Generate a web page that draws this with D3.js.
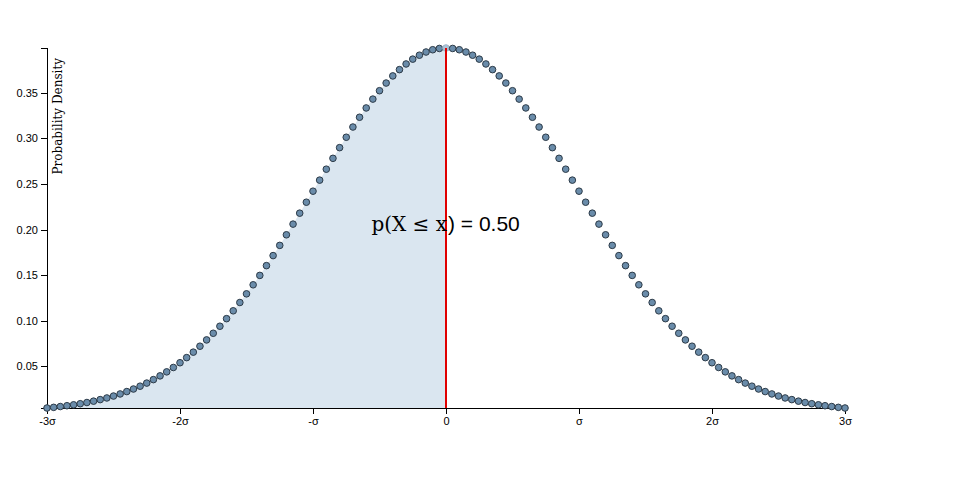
<!DOCTYPE html>
<html>
<head>
<meta charset="utf-8">
<script src="https://cdn.jsdelivr.net/npm/d3@7"></script>
<style>
  body { margin: 0; background: #fff; }
  svg { display: block; }
  .axis text { font-family: "Liberation Sans", Arial, sans-serif; font-size: 11px; fill: #000; }
  .axis path, .axis line { stroke: #000; fill: none; shape-rendering: crispEdges; }
</style>
</head>
<body>
<svg id="chart" width="960" height="500"></svg>
<script>
// z-scores (in units of sigma)
const zScores = [
 -3.00,-2.95,-2.90,-2.85,-2.80,-2.75,-2.70,-2.65,-2.60,-2.55,-2.50,-2.45,-2.40,-2.35,-2.30,-2.25,-2.20,-2.15,-2.10,-2.05,
 -2.00,-1.95,-1.90,-1.85,-1.80,-1.75,-1.70,-1.65,-1.60,-1.55,-1.50,-1.45,-1.40,-1.35,-1.30,-1.25,-1.20,-1.15,-1.10,-1.05,
 -1.00,-0.95,-0.90,-0.85,-0.80,-0.75,-0.70,-0.65,-0.60,-0.55,-0.50,-0.45,-0.40,-0.35,-0.30,-0.25,-0.20,-0.15,-0.10,-0.05,
  0.00, 0.05, 0.10, 0.15, 0.20, 0.25, 0.30, 0.35, 0.40, 0.45, 0.50, 0.55, 0.60, 0.65, 0.70, 0.75, 0.80, 0.85, 0.90, 0.95,
  1.00, 1.05, 1.10, 1.15, 1.20, 1.25, 1.30, 1.35, 1.40, 1.45, 1.50, 1.55, 1.60, 1.65, 1.70, 1.75, 1.80, 1.85, 1.90, 1.95,
  2.00, 2.05, 2.10, 2.15, 2.20, 2.25, 2.30, 2.35, 2.40, 2.45, 2.50, 2.55, 2.60, 2.65, 2.70, 2.75, 2.80, 2.85, 2.90, 2.95,
  3.00
];
// probability density
const density = [
 0.0044,0.0051,0.0060,0.0069,0.0079,0.0091,0.0104,0.0119,0.0136,0.0154,0.0175,0.0198,0.0224,0.0252,0.0283,0.0317,0.0355,0.0396,0.0440,0.0488,
 0.0540,0.0596,0.0656,0.0721,0.0790,0.0863,0.0940,0.1023,0.1109,0.1200,0.1295,0.1394,0.1497,0.1604,0.1714,0.1826,0.1942,0.2059,0.2179,0.2299,
 0.2420,0.2541,0.2661,0.2780,0.2897,0.3011,0.3123,0.3230,0.3332,0.3429,0.3521,0.3605,0.3683,0.3752,0.3814,0.3867,0.3910,0.3945,0.3970,0.3984,
 0.3989,0.3984,0.3970,0.3945,0.3910,0.3867,0.3814,0.3752,0.3683,0.3605,0.3521,0.3429,0.3332,0.3230,0.3123,0.3011,0.2897,0.2780,0.2661,0.2541,
 0.2420,0.2299,0.2179,0.2059,0.1942,0.1826,0.1714,0.1604,0.1497,0.1394,0.1295,0.1200,0.1109,0.1023,0.0940,0.0863,0.0790,0.0721,0.0656,0.0596,
 0.0540,0.0488,0.0440,0.0396,0.0355,0.0317,0.0283,0.0252,0.0224,0.0198,0.0175,0.0154,0.0136,0.0119,0.0104,0.0091,0.0079,0.0069,0.0060,0.0051,
 0.0044
];
const xTickValues = [-3, -2, -1, 0, 1, 2, 3];
const xTickLabels = ["-3σ", "-2σ", "-σ", "0", "σ", "2σ", "3σ"];
const yTickValues = [0.05, 0.10, 0.15, 0.20, 0.25, 0.30, 0.35];
const cutoff = 0;          // x value of the red line
const probTextLeft = "p(X ≤ x";
const probTextRight = ") = 0.50";
const yLabel = "Probability Density";

const data = zScores.map((z, i) => ({ z, p: density[i] }));

const margin = { top: 48, right: 115, bottom: 92, left: 47 };
const width = 960 - margin.left - margin.right;
const height = 500 - margin.top - margin.bottom;

const svg = d3.select("#chart");
const g = svg.append("g").attr("transform", `translate(${margin.left},${margin.top})`);

const x = d3.scaleLinear().domain([-3, 3]).range([0, width]);
const y = d3.scaleLinear().domain(d3.extent(density)).range([height, 0]);

// shaded area up to cutoff
const shaded = data.filter(d => d.z <= cutoff);
g.append("path")
  .datum(shaded)
  .attr("fill", "rgb(218,230,240)")
  .attr("d", d3.area().x(d => x(d.z)).y0(height).y1(d => y(d.p)));

// axes
g.append("g").attr("class", "axis")
  .attr("transform", `translate(0,${height})`)
  .call(d3.axisBottom(x).tickValues(xTickValues).tickFormat((d, i) => xTickLabels[i]));

const yAxis = g.append("g").attr("class", "axis")
  .call(d3.axisLeft(y).tickValues(yTickValues).tickFormat(d3.format(".2f")));

yAxis.append("text")
  .attr("transform", "rotate(-90)")
  .attr("x", -10)
  .attr("y", 6)
  .attr("dy", ".71em")
  .style("text-anchor", "end")
  .style("font-family", "'DejaVu Serif', serif")
  .style("font-size", "12px")
  .style("fill", "#000")
  .text(yLabel);

// dots
g.selectAll("circle.dot")
  .data(data)
  .join("circle")
  .attr("class", "dot")
  .attr("cx", d => x(d.z))
  .attr("cy", d => y(d.p))
  .attr("r", 3.3)
  .attr("fill", d => d.z === cutoff ? "#aec3d6" : "#6a8caa")
  .attr("stroke", d => d.z === cutoff ? "#9db4ca" : "#2c3a47")
  .attr("stroke-width", 1);

// red cutoff line
const peak = data.find(d => d.z === cutoff);
g.append("line")
  .attr("x1", x(cutoff)).attr("x2", x(cutoff))
  .attr("y1", height).attr("y2", y(peak.p))
  .attr("stroke", "#e00000")
  .attr("stroke-width", 2);

// probability label: serif on shaded side, sans on the other
const labelY = y(0.2) + 1;
g.append("text")
  .attr("x", x(cutoff) + 1)
  .attr("y", labelY)
  .style("text-anchor", "end")
  .style("font-family", "'DejaVu Serif', serif")
  .style("font-size", "20px")
  .style("fill", "#000")
  .text(probTextLeft);

g.append("text")
  .attr("x", x(cutoff) + 2)
  .attr("y", labelY)
  .style("font-family", "'Liberation Sans', Arial, sans-serif")
  .style("font-size", "21px")
  .style("fill", "#000")
  .text(probTextRight);
</script>
</body>
</html>
